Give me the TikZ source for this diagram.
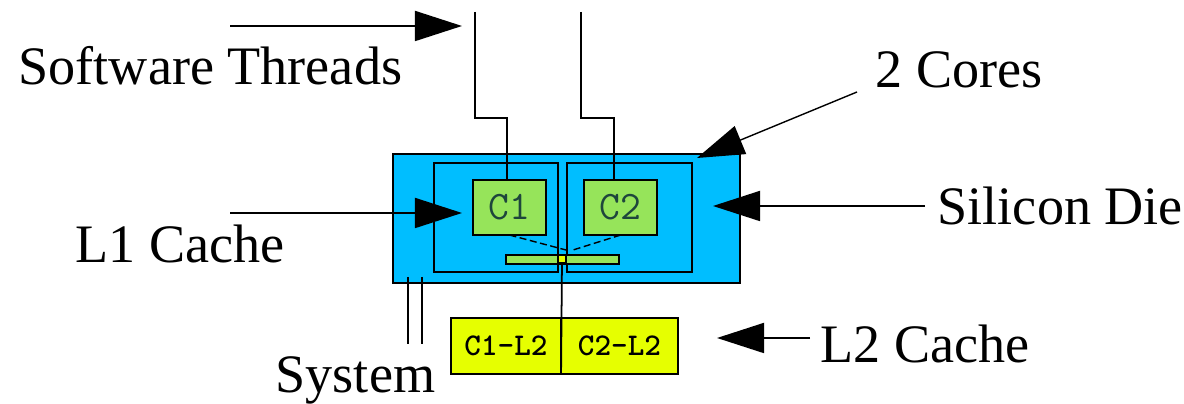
\documentclass[tikz,border=0pt]{standalone}
\usepackage{fontspec}
\setmainfont{Liberation Serif}
\usetikzlibrary{arrows.meta}
\definecolor{diecyan}{RGB}{0,190,255}
\definecolor{coregreen}{RGB}{150,228,90}
\definecolor{lyellow}{RGB}{230,255,0}
\definecolor{coretext}{RGB}{30,70,60}
\tikzset{
  box/.style={draw=black, line width=0.7pt, inner sep=0pt, outer sep=0pt, anchor=north west},
  diebox/.style={box, fill=diecyan},
  corebox/.style={box, fill=diecyan},
  cbox/.style={box, fill=coregreen, font=\ttfamily\fontsize{11.5}{12}\selectfont, text=coretext},
  l2box/.style={box, fill=lyellow, font=\ttfamily\bfseries\fontsize{9}{10}\selectfont},
  wire/.style={line width=0.5pt},
  pointer/.style={line width=0.5pt, -{Triangle[length=0.47cm,width=0.3cm]}},
  lbl/.style={anchor=base west, inner sep=0pt, font=\fontsize{15.4}{18}\selectfont},
}
\begin{document}
\begin{tikzpicture}[x=0.01cm, y=-0.01cm]
\useasboundingbox (0,0) rectangle (1184,404);
% silicon die and cores
\node[diebox, minimum width=3.47cm, minimum height=1.29cm] (die) at (393,154) {};
\node[corebox, minimum width=1.24cm, minimum height=1.09cm] (core1) at (434,163) {};
\node[corebox, minimum width=1.25cm, minimum height=1.09cm] (core2) at (567,163) {};
\node[cbox, minimum width=0.73cm, minimum height=0.55cm] (c1) at (473,180) {C1};
\node[cbox, minimum width=0.73cm, minimum height=0.55cm] (c2) at (584,180) {C2};
\node[box, fill=coregreen, line width=0.5pt, minimum width=1.13cm, minimum height=0.09cm] (l1) at (506,255) {};
% L2 boxes
\node[l2box, minimum width=1.10cm, minimum height=0.56cm] (l2a) at (451,318) {C1-L2};
\node[l2box, minimum width=1.17cm, minimum height=0.56cm] (l2b) at (561,318) {C2-L2};
% bus
\coordinate (bus) at (562,259);
\coordinate (d1) at (566,250);
\coordinate (d2) at (573,250);
\draw[wire] (bus) -- (l2a.south east);
\draw[wire, dashed, dash pattern=on 2pt off 1pt, line width=0.4pt] (c1.south) ++(-0.1,0) -- (d1);
\draw[wire, dashed, dash pattern=on 2pt off 1pt, line width=0.4pt] (c2.south) ++(0.1,0) -- (d2);
\node[draw=black, fill=lyellow, line width=0.4pt, minimum size=0.08cm, inner sep=0pt] (dot) at (bus) {};
% software threads
\coordinate (t1) at (475,12);
\coordinate (t1b) at (475,118);
\coordinate (t1c) at (507,118);
\coordinate (t2) at (581,12);
\coordinate (t2b) at (581,118);
\coordinate (t2c) at (614,118);
\draw[wire] (t1) -- (t1b) -- (t1c) -- (t1c |- c1.north);
\draw[wire] (t2) -- (t2b) -- (t2c) -- (t2c |- c2.north);
% system lines
\coordinate (s1) at (408,277);
\coordinate (s2) at (422,277);
\draw[wire] (s1) -- ++(0,67);
\draw[wire] (s2) -- ++(0,67);
% labels
\node[lbl] (lst) at (18,85) {Software Threads};
\node[lbl] (lcores) at (875,88) {2 Cores};
\node[lbl] (ldie) at (937,225) {Silicon Die};
\node[lbl] (ll1) at (75,263) {L1 Cache};
\node[lbl] (ll2) at (820,363) {L2 Cache};
\node[lbl] (lsys) at (275,393) {System};
% pointers
\coordinate (pst) at (230,26);
\coordinate (pst2) at (462,26);
\draw[pointer] (pst) -- (pst2);
\coordinate (pl1) at (230,213);
\coordinate (pl1b) at (462,213);
\draw[pointer] (pl1) -- (pl1b);
\coordinate (pco) at (857,92);
\coordinate (pcob) at (697,158);
\draw[pointer, line width=0.4pt] (pco) -- (pcob);
\coordinate (pdie) at (925,206);
\coordinate (pdieb) at (713,206);
\draw[pointer] (pdie) -- (pdieb);
\coordinate (pl2) at (810,338);
\coordinate (pl2b) at (717,338);
\draw[pointer] (pl2) -- (pl2b);
\end{tikzpicture}
\end{document}
